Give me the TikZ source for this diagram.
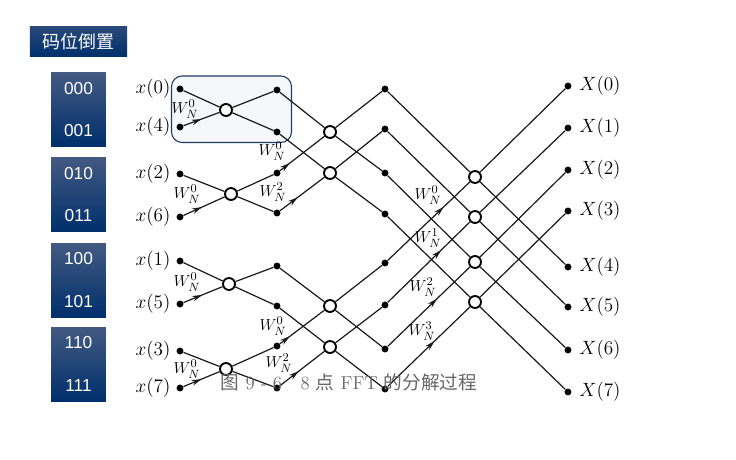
\documentclass[tikz,border=0pt]{standalone}
\usepackage{fontspec}
\newfontfamily\cjk{Noto Sans CJK SC}
\newfontfamily\codefont{Liberation Sans}
\usetikzlibrary{arrows.meta,decorations.markings}
\definecolor{navy}{HTML}{002F6C}
\definecolor{navytop}{HTML}{435A82}
\definecolor{framecol}{HTML}{1F3A63}
\definecolor{framefill}{HTML}{F5F7FA}
\tikzset{
  dot/.style={circle,fill=black,inner sep=0pt,minimum size=5.2pt},
  sum/.style={circle,draw=black,fill=white,line width=1.4pt,inner sep=0pt,minimum size=9pt},
  wire/.style={black!90,line width=0.9pt},
  twiddle/.style={postaction={decorate},decoration={markings,
    mark=at position #1 with {\arrow{Stealth[length=7.5pt,width=4.2pt]}}}},
  codebox/.style={top color=navytop,middle color=navy,bottom color=navy,text=white,
    minimum width=41pt,minimum height=55.5pt,inner sep=0pt,align=center,
    font=\codefont\fontsize{13}{15}\selectfont},
  titlebox/.style={top color=navytop!60!navy,bottom color=navy,text=white,
    minimum width=73pt,minimum height=22.5pt,inner sep=0pt,
    font=\cjk\fontsize{13.5}{15}\selectfont},
  lab/.style={inner sep=0pt,font=\fontsize{14}{16}\selectfont},
  weight/.style={inner sep=0pt,font=\fontsize{13}{15}\selectfont},
}
\begin{document}
\begin{tikzpicture}[x=0.75pt,y=-0.75pt]
  \useasboundingbox (0,0) rectangle (736,460);
  \node[titlebox] (title) at (78.5,42) {码位倒置};
  \node[codebox] (code0) at (78.5,109.5) {000\\[17pt]001};
  \node[codebox] (code1) at (78.5,194.5) {010\\[17pt]011};
  \node[codebox] (code2) at (78.5,280) {100\\[17pt]101};
  \node[codebox] (code3) at (78.5,364) {110\\[17pt]111};
  \draw[framecol,fill=framefill,line width=0.8pt,rounded corners=8pt] (171.5,76) rectangle (291.5,142.5);
  % inputs and outputs
  \foreach \row/\ypos/\lab in {0/89/0,1/127/4,2/174/2,3/217/6,4/261/1,5/304/5,6/351/3,7/388/7}{
    \node[dot] (a\row) at (180,\ypos) {};
    \node[lab] (xl\row) at (153,\ypos) {$x(\lab)$};
  }
  \foreach \row/\ypos/\lab in {0/86/0,1/128/1,2/170/2,3/211/3,4/267/4,5/307/5,6/350/6,7/392/7}{
    \node[dot] (g\row) at (568,\ypos) {};
    \node[lab] (xr\row) at (600,\ypos) {$X(\lab)$};
  }
  % inner dots
  \foreach \row/\ypos in {0/90,1/132,2/173,3/213,4/266,5/306,6/346,7/388}
    \node[dot] (c\row) at (277,\ypos) {};
  \foreach \row/\ypos in {0/89,1/129,2/173,3/214,4/263,5/305,6/349,7/389}
    \node[dot] (e\row) at (385,\ypos) {};
  % butterflies
  \node[sum] (b0) at (226,110) {};
  \node[sum] (b1) at (231,194) {};
  \node[sum] (b2) at (229,284) {};
  \node[sum] (b3) at (226,369) {};
  \foreach \row/\ypos in {0/132,1/173,2/306,3/347}
    \node[sum] (d\row) at (330,\ypos) {};
  \foreach \row/\ypos in {0/177,1/217,2/262,3/302}
    \node[sum] (f\row) at (475,\ypos) {};
  % plain wires
  \foreach \from/\to in {a0/b0,a2/b1,a4/b2,a6/b3,b0/c0,b0/c1,b1/c2,b1/c3,b2/c4,b2/c5,b3/c6,b3/c7,
    c0/d0,c1/d1,c4/d2,c5/d3,d0/e0,d0/e2,d1/e1,d1/e3,d2/e4,d2/e6,d3/e5,d3/e7,
    e0/f0,e1/f1,e2/f2,e3/f3,f0/g0,f0/g4,f1/g1,f1/g5,f2/g2,f2/g6,f3/g3,f3/g7}
    \draw[wire] (\from) -- (\to);
  % wires with a weight
  \foreach \from/\to/\place in {a1/b0/0.5,a3/b1/0.45,a5/b2/0.48,a7/b3/0.5,c2/d0/0.22,c3/d1/0.4,c6/d2/0.22,c7/d3/0.42,
    e4/f0/0.68,e5/f1/0.65,e6/f2/0.6,e7/f3/0.57}
    \draw[wire,twiddle=\place] (\from) -- (\to);
  % weights
  \foreach \name/\xpos/\ypos/\power in {w0/185/109/0,w1/187/194/0,w2/187/282/0,w3/187/369/0,
    w4/272/151/0,w5/273/192/2,w6/273/326/0,w7/279/363/2,
    w8/428/195/0,w9/428/238/1,w10/423/287/2,w11/422/331/3}
    \node[weight] (\name) at (\xpos,\ypos) {$W_N^{\power}$};
  \node[text=black!60,inner sep=0pt,font=\fontsize{14}{16}\selectfont] (caption) at (349,382)
    {{\cjk 图} 9 - 6\quad 8 {\cjk 点} FFT {\cjk 的分解过程}};
\end{tikzpicture}
\end{document}
